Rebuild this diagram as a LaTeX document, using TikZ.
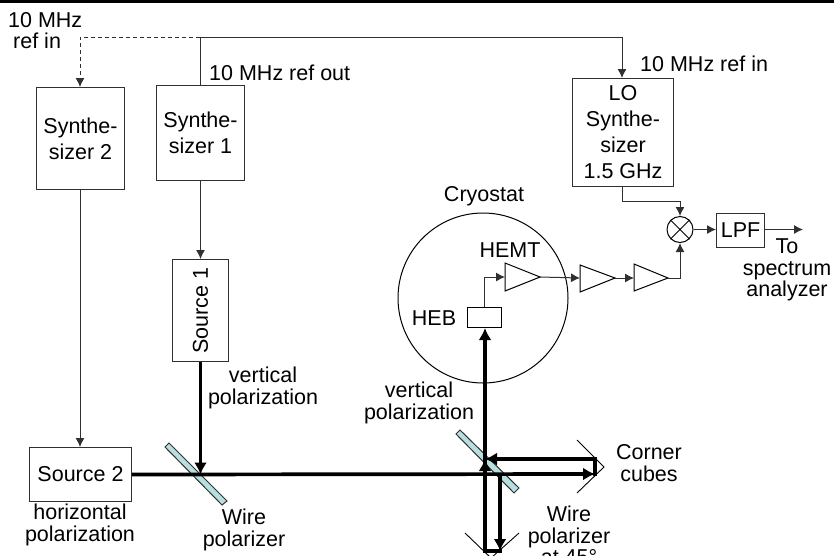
\documentclass[tikz,border=0pt]{standalone}
\usepackage{fontspec}
\setmainfont{Liberation Sans}
\usetikzlibrary{arrows.meta}
\definecolor{pol}{HTML}{B7DFE0}
\definecolor{edge}{HTML}{303030}
\tikzset{
  x=1pt,y=-1pt,
  txt/.style={font=\fontsize{21.5}{21.5}\selectfont,align=center,inner sep=0pt,text=black},
  boxn/.style={draw=edge,line width=1pt,fill=white,inner sep=0pt,anchor=north west,font=\fontsize{21.5}{26}\selectfont,align=center},
  thin line/.style={draw=edge,line width=1pt},
  thin arrow/.style={thin line,-{Latex[length=9pt,width=9pt]}},
  dash arrow/.style={thin arrow,dash pattern=on 4pt off 3pt},
  beam/.style={draw=black,line width=3.7pt},
  beam arrow/.style={beam,-{Latex[length=12pt,width=13pt]}},
  polar/.style={draw=edge,line width=1pt,fill=pol},
  amp/.style={draw=black,line width=1pt,fill=white},
  cube/.style={draw=black,line width=0.9pt}
}
\begin{document}
\begin{tikzpicture}
\useasboundingbox (0,0) rectangle (834,555);
\clip (0,0) rectangle (834,555);
\fill[black] (0,0) rectangle (834,3);
% boxes
\node[boxn,minimum width=88pt,minimum height=102pt] (syn2) at (36,87) {Synthe-\\sizer 2};
\node[boxn,minimum width=88pt,minimum height=95pt] (syn1) at (156,85) {Synthe-\\sizer 1};
\node[boxn,minimum width=101pt,minimum height=108pt] (lo) at (572,78) {LO\\Synthe-\\sizer\\1.5 GHz};
\node[boxn,minimum width=56pt,minimum height=102pt] (src1) at (172,259) {\rotatebox{90}{Source 1}};
\node[boxn,minimum width=102pt,minimum height=54pt] (src2) at (29,447) {Source 2};
\node[boxn,minimum width=48pt,minimum height=34pt] (lpf) at (716,213) {LPF};
% cryostat
\node[draw=black,line width=1pt,circle,minimum size=170pt,inner sep=0pt] (cryo) at (483,298) {};
\node[boxn,minimum width=34pt,minimum height=20pt,draw=black] (heb) at (467,307) {};
% mixer
\node[draw=black,line width=1pt,circle,minimum size=26pt,inner sep=0pt] (mix) at (680,229.5) {};
\draw[black,line width=1pt] (mix.45) -- (mix.225) (mix.135) -- (mix.315);
% amplifiers
\draw[amp] (505,263) -- (540,277) coordinate (a1o) -- (505,291) -- cycle;
\coordinate (a1in) at (505,277);
\draw[amp] (580,265) -- (615,278) coordinate (a2o) -- (580,292) -- cycle;
\coordinate (a2in) at (580,278);
\draw[amp] (634,264) -- (668,278) coordinate (a3o) -- (634,291) -- cycle;
\coordinate (a3in) at (634,278);
% thin connectors
\coordinate (ref) at (200,37);
\coordinate (refd) at (80,37);
\coordinate (refr) at (622,37);
\draw[thin line] (ref) -- (syn1.north -| ref);
\draw[dash arrow] (ref) -- (refd) -- (syn2.north -| refd);
\draw[thin arrow] (ref) -- (refr) -- (lo.north -| refr);
\draw[thin arrow] (syn1.south -| src1.north) -- (src1.north);
\draw[thin arrow] (syn2.south -| refd) -- (src2.north -| refd);
\coordinate (lob) at (622,201);
\draw[thin arrow] (lo.south -| lob) -- (lob) -- (lob -| mix.north) -- (mix.north);
\draw[thin arrow] (mix.east) -- (lpf.west |- mix.east);
\coordinate (out) at (803,229.5);
\draw[thin arrow] (lpf.east |- out) -- (out);
\draw[thin arrow] (heb.north) -- (heb.north |- a1in) -- (a1in);
\draw[thin arrow] (a1o) -- (a2in);
\draw[thin arrow] (a2o) -- (a3in);
\draw[thin arrow] (a3o) -- (a3o -| mix.south) -- (mix.south);
% polarizers
\draw[polar] (165,447) -- (169,443) -- (227,501) -- (222,505) -- cycle;
\draw[polar] (456,434) -- (460,430) -- (519,488) -- (514,493) -- cycle;
% corner cubes
\coordinate (ca) at (577,440); \coordinate (cb) at (604,467); \coordinate (cc) at (577,493);
\draw[cube] (ca) -- (cb) -- (cc);
\coordinate (da) at (465,533); \coordinate (db) at (491,558); \coordinate (dc) at (519,533);
\draw[cube] (da) -- (db) -- (dc);
% beams
\coordinate (hit1) at (src1.south |- src2.east);
\coordinate (cr) at (595,474);
\coordinate (ct) at (595,459);
\coordinate (vb) at (485,551);
\coordinate (vb2) at (500,551);
\coordinate (v45) at (485,459);
\draw[beam arrow] (src1.south) -- (hit1);
\draw[beam arrow] (src2.east) -- (cr);
\draw[beam,line cap=rect] (cr) -- (ct);
\draw[beam arrow] (ct) -- (v45);
\draw[beam arrow] (vb) -- (heb.south -| vb);
\draw[beam arrow] (vb) -- (v45);
\draw[beam arrow] (vb2 |- cr) -- (vb2);
\draw[beam,line cap=rect] (vb) -- (vb2);
% labels
\node[txt,align=left,anchor=north west] (t1) at (8,12) {10 MHz\\\hspace*{5pt}ref in};
\node[txt,anchor=west] (t2) at (209,73) {10 MHz ref out};
\node[txt,anchor=west] (t3) at (640,64) {10 MHz ref in};
\node[txt] (t4) at (484,196) {Cryostat};
\node[txt] (t5) at (510,250) {HEMT};
\node[txt] (t6) at (434,318) {HEB};
\node[txt] (t7) at (787,270) {To\\spectrum\\analyzer};
\node[txt] (t8) at (263,388) {vertical\\polarization};
\node[txt] (t9) at (419,403) {vertical\\polarization};
\node[txt] (t10) at (80,525) {horizontal\\polarization};
\node[txt] (t11) at (244,530) {Wire\\polarizer};
\node[txt] (t12) at (649,463) {Corner\\cubes};
\node[txt,anchor=north] (t13) at (569,506) {Wire\\polarizer\\at 45°};
\end{tikzpicture}
\end{document}
